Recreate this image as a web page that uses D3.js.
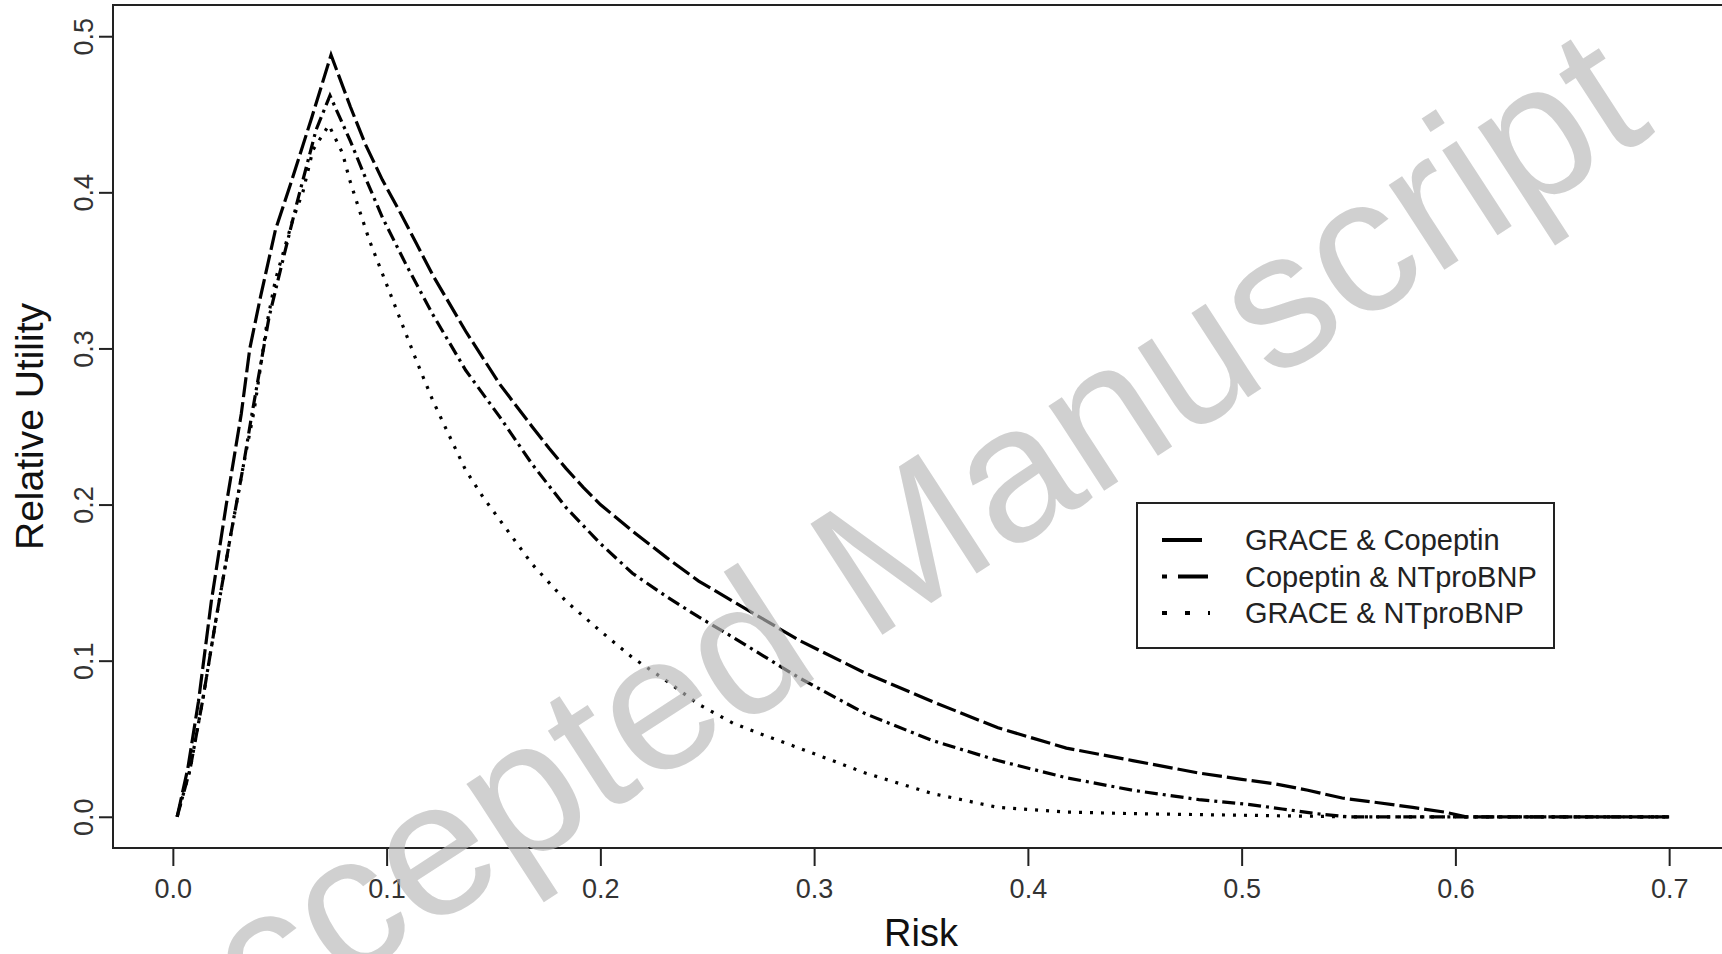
<!DOCTYPE html>
<html>
<head>
<meta charset="utf-8">
<script src="https://cdn.jsdelivr.net/npm/d3@7"></script>
<style>
  body { margin: 0; background: #fff; }
  text { font-family: "Liberation Sans", Arial, sans-serif; }
</style>
</head>
<body>
<div id="plot"></div>
<script>
// values: [risk, relative utility]
var graceCopeptin = [
  [0.002,0],[0.007,0.031],[0.012,0.074],[0.018,0.138],[0.025,0.2],[0.032,0.258],[0.036,0.3],
  [0.041,0.333],[0.048,0.376],[0.055,0.405],[0.065,0.448],[0.074,0.488],[0.083,0.455],[0.09,0.431],
  [0.098,0.408],[0.106,0.388],[0.114,0.367],[0.122,0.346],[0.137,0.311],[0.153,0.277],[0.168,0.25],
  [0.176,0.236],[0.184,0.223],[0.192,0.211],[0.2,0.2],[0.215,0.183],[0.231,0.166],[0.246,0.151],
  [0.262,0.138],[0.277,0.126],[0.293,0.113],[0.324,0.092],[0.355,0.074],[0.386,0.057],[0.418,0.044],
  [0.449,0.036],[0.48,0.028],[0.5,0.024],[0.516,0.021],[0.531,0.017],[0.547,0.012],[0.564,0.009],
  [0.58,0.006],[0.595,0.003],[0.605,0],[0.7,0]
];
var copeptinNtpro = [
  [0.002,0],[0.008,0.03],[0.014,0.075],[0.02,0.125],[0.027,0.18],[0.033,0.225],[0.037,0.258],
  [0.045,0.32],[0.051,0.354],[0.058,0.393],[0.067,0.44],[0.0735,0.462],[0.083,0.433],[0.0905,0.408],
  [0.098,0.384],[0.109,0.354],[0.1215,0.322],[0.137,0.286],[0.153,0.256],[0.168,0.226],[0.184,0.198],
  [0.2,0.175],[0.215,0.156],[0.231,0.141],[0.246,0.128],[0.262,0.115],[0.293,0.089],[0.324,0.066],
  [0.355,0.049],[0.386,0.036],[0.418,0.025],[0.449,0.017],[0.48,0.011],[0.503,0.008],[0.519,0.005],
  [0.535,0.002],[0.55,0],[0.7,0]
];
var graceNtpro = [
  [0.002,0],[0.008,0.03],[0.014,0.075],[0.02,0.125],[0.027,0.18],[0.033,0.225],[0.038,0.26],
  [0.044,0.316],[0.048,0.344],[0.056,0.382],[0.061,0.401],[0.0655,0.427],[0.073,0.443],[0.0794,0.425],
  [0.0827,0.408],[0.0874,0.388],[0.092,0.369],[0.098,0.348],[0.106,0.32],[0.114,0.292],[0.1215,0.267],
  [0.129,0.245],[0.137,0.222],[0.145,0.205],[0.153,0.19],[0.168,0.162],[0.184,0.138],[0.2,0.119],
  [0.215,0.102],[0.231,0.087],[0.246,0.072],[0.262,0.06],[0.277,0.052],[0.293,0.044],[0.324,0.028],
  [0.355,0.015],[0.386,0.006],[0.418,0.003],[0.449,0.002],[0.5,0.001],[0.55,0],[0.7,0]
];
var seriesNames = ['GRACE & Copeptin', 'Copeptin & NTproBNP', 'GRACE & NTproBNP'];
var xTicks = [0, 0.1, 0.2, 0.3, 0.4, 0.5, 0.6, 0.7];
var yTicks = [0, 0.1, 0.2, 0.3, 0.4, 0.5];

var W = 1722, H = 954;
var box = {left: 113, top: 5, right: 1729, bottom: 848};

var svg = d3.select('#plot').append('svg')
  .attr('width', W).attr('height', H);

var x = d3.scaleLinear().domain([-0.028, 0.728]).range([box.left, box.right]);
var y = d3.scaleLinear().domain([-0.02, 0.52]).range([box.bottom, box.top]);

// curves
var line = d3.line().x(function(d){ return x(d[0]); }).y(function(d){ return y(d[1]); });
var dashes = ['20,5', '13,5,3,5', '3,8'];
var curves = [graceCopeptin, copeptinNtpro, graceNtpro];

svg.append('g').selectAll('path')
  .data(curves)
  .enter().append('path')
    .attr('d', line)
    .attr('fill', 'none')
    .attr('stroke', '#000')
    .attr('stroke-width', 3.2)
    .attr('stroke-dasharray', function(d,i){ return dashes[i]; });

// box
svg.append('rect')
  .attr('x', box.left).attr('y', box.top)
  .attr('width', box.right - box.left).attr('height', box.bottom - box.top)
  .attr('fill', 'none').attr('stroke', '#222').attr('stroke-width', 2);

// x axis
var xAxis = svg.append('g')
  .attr('transform', 'translate(0,' + box.bottom + ')')
  .call(d3.axisBottom(x).tickValues(xTicks).tickSize(18).tickSizeOuter(0).tickFormat(d3.format('.1f')));
xAxis.select('.domain').remove();
xAxis.selectAll('line').attr('stroke', '#222').attr('stroke-width', 2);
xAxis.selectAll('text')
  .attr('y', 50).attr('dy', 0)
  .attr('fill', '#333')
  .style('font-size', '27px')
  .style('font-family', '"Liberation Sans", Arial, sans-serif');

// y axis
var yAxis = svg.append('g')
  .attr('transform', 'translate(' + box.left + ',0)')
  .call(d3.axisLeft(y).tickValues(yTicks).tickSize(14).tickSizeOuter(0).tickFormat(d3.format('.1f')));
yAxis.select('.domain').remove();
yAxis.selectAll('line').attr('stroke', '#222').attr('stroke-width', 2);
yAxis.selectAll('text')
  .attr('x', 0).attr('dy', 0)
  .attr('text-anchor', 'middle')
  .attr('transform', 'translate(-20,0) rotate(-90)')
  .attr('fill', '#333')
  .style('font-size', '27px')
  .style('font-family', '"Liberation Sans", Arial, sans-serif');

// axis titles
svg.append('text')
  .attr('x', (box.left + box.right) / 2).attr('y', 946)
  .attr('text-anchor', 'middle')
  .style('font-size', '38px')
  .attr('fill', '#111')
  .text('Risk');

svg.append('text')
  .attr('transform', 'translate(43,' + ((box.top + box.bottom) / 2) + ') rotate(-90)')
  .attr('text-anchor', 'middle')
  .style('font-size', '39px')
  .attr('fill', '#111')
  .text('Relative Utility');

// legend
var lg = svg.append('g').attr('transform', 'translate(1137,503)');
lg.append('rect')
  .attr('width', 417).attr('height', 145)
  .attr('fill', '#fff').attr('stroke', '#222').attr('stroke-width', 2);

var legendDash = [null, '5,11,30', '5,18'];
var legendEnd = [65, 71, 73];
var rows = lg.selectAll('.row')
  .data(seriesNames)
  .enter().append('g')
    .attr('class', 'row')
    .attr('transform', function(d,i){ return 'translate(0,' + (37 + i * 36.5) + ')'; });

rows.append('line')
  .attr('x1', 25).attr('x2', function(d,i){ return legendEnd[i]; })
  .attr('y1', 0).attr('y2', 0)
  .attr('stroke', '#000').attr('stroke-width', 4)
  .attr('stroke-dasharray', function(d,i){ return legendDash[i]; });

rows.append('text')
  .attr('x', 108).attr('y', 10)
  .style('font-size', '29px')
  .attr('fill', '#222')
  .text(function(d){ return d; });

// watermark
svg.append('text')
  .attr('transform', 'translate(905,620) rotate(-33)')
  .attr('text-anchor', 'middle')
  .style('font-size', '192px')
  .attr('fill', '#b7b7b7')
  .attr('fill-opacity', 0.65)
  .text('Accepted Manuscript');
</script>
</body>
</html>
